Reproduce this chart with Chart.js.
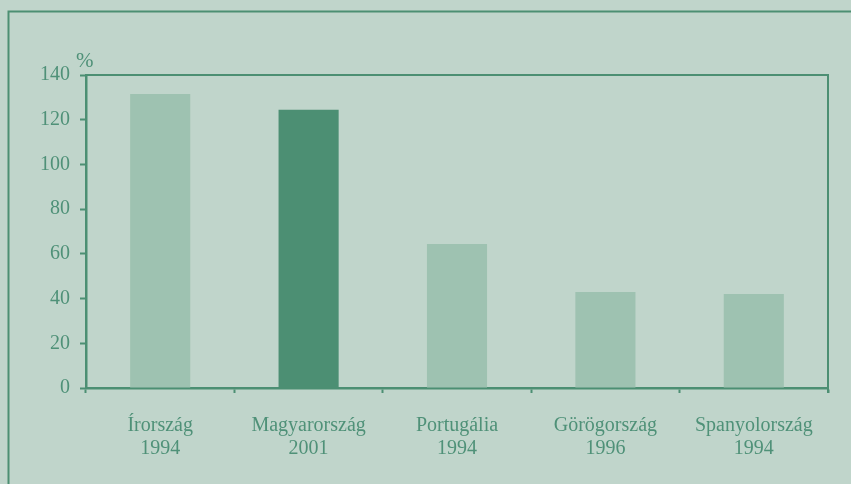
<!DOCTYPE html>
<html>
<head>
<meta charset="utf-8">
<script src="https://cdn.jsdelivr.net/npm/chart.js@4.4.1/dist/chart.umd.min.js"></script>
<style>
  html, body { margin: 0; padding: 0; background: #c0d5cb; }
  #wrap { position: relative; width: 851px; height: 484px; }
</style>
</head>
<body>
<div id="wrap"><canvas id="grafico"></canvas></div>
<script>
// Datos del gráfico
var orszagok = [['Írország', '1994'], ['Magyarország', '2001'], ['Portugália', '1994'], ['Görögország', '1996'], ['Spanyolország', '1994']];
var ertekek = [131.5, 124.5, 64.4, 42.9, 42.0];
var oszlopSzinek = ['#9ec2b1', '#4c8f73', '#9ec2b1', '#9ec2b1', '#9ec2b1'];

var ZOLD = '#4c8f73';
var SZOVEG = '#4f9178';
var BETU = '"Liberation Serif", "Times New Roman", serif';

// Marco exterior, borde del área y el símbolo %
var keretPlugin = {
  id: 'keret',
  afterDraw: function(chart) {
    var c = chart.ctx, a = chart.chartArea;
    c.save();
    c.strokeStyle = ZOLD;
    // marco exterior (solo izquierda y arriba visibles)
    c.lineWidth = 2;
    c.beginPath();
    c.moveTo(8.5, 484);
    c.lineTo(8.5, 11.5);
    c.lineTo(851, 11.5);
    c.stroke();
    // borde superior y derecho del área del gráfico
    c.beginPath();
    c.moveTo(a.left, a.top);
    c.lineTo(a.right, a.top);
    c.lineTo(a.right, a.bottom + 5);
    c.stroke();
    // unidad
    c.fillStyle = SZOVEG;
    c.font = '21px ' + BETU;
    c.textAlign = 'left';
    c.textBaseline = 'alphabetic';
    c.fillText('%', 76, 67);
    c.restore();
  }
};

new Chart(document.getElementById('grafico'), {
  type: 'bar',
  data: {
    labels: orszagok,
    datasets: [{
      data: ertekek,
      backgroundColor: oszlopSzinek,
      borderWidth: 0,
      categoryPercentage: 1,
      barPercentage: 0.405
    }]
  },
  options: {
    responsive: true,
    maintainAspectRatio: false,
    animation: false,
    layout: { padding: { top: 75, right: 23, left: 0, bottom: 0 } },
    plugins: {
      legend: { display: false },
      tooltip: { enabled: false }
    },
    scales: {
      x: {
        afterFit: function(s) { s.height = 96; },
        grid: {
          offset: true,
          drawOnChartArea: false,
          drawTicks: true,
          tickLength: 5,
          tickWidth: 2,
          tickColor: ZOLD
        },
        border: { display: true, color: ZOLD, width: 2.5 },
        ticks: {
          color: SZOVEG,
          padding: 21,
          maxRotation: 0,
          font: { family: BETU, size: 20, lineHeight: 1.15 }
        }
      },
      y: {
        min: 0,
        max: 140,
        afterFit: function(s) { s.width = 86; },
        grid: {
          drawOnChartArea: false,
          drawTicks: true,
          tickLength: 6,
          tickWidth: 2,
          tickColor: ZOLD
        },
        border: { display: true, color: ZOLD, width: 2.5 },
        ticks: {
          stepSize: 20,
          color: SZOVEG,
          padding: 10,
          font: { family: BETU, size: 20 }
        }
      }
    }
  },
  plugins: [keretPlugin]
});
</script>
</body>
</html>
